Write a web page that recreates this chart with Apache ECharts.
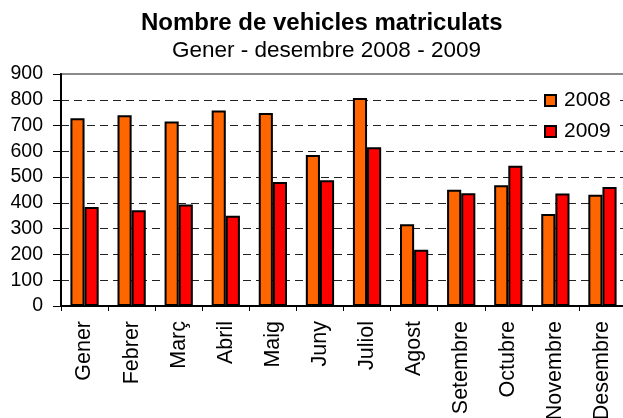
<!DOCTYPE html>
<html>
<head>
<meta charset="utf-8">
<script src="https://cdn.jsdelivr.net/npm/echarts@6/dist/echarts.min.js"></script>
<style>
html,body{margin:0;padding:0;background:#fff;}
#chart{width:623px;height:418px;}
</style>
</head>
<body>
<div id="chart"></div>
<script>
const months = ['Gener','Febrer','Març','Abril','Maig','Juny','Juliol','Agost','Setembre','Octubre','Novembre','Desembre'];
const values2008 = [728, 740, 716, 758, 749, 586, 807, 317, 451, 468, 357, 432];
const values2009 = [384, 371, 394, 350, 481, 488, 616, 218, 437, 544, 436, 462];
const seriesNames = ['2008', '2009'];
const titleText = 'Nombre de vehicles matriculats';
const subtitleText = 'Gener - desembre 2008 - 2009';

const FONT = '"Liberation Sans", Arial, sans-serif';
const gridColors = ['#222','#222','#222','#222','#222','#222','#222','#222','#222','rgba(0,0,0,0)'];
const chart = echarts.init(document.getElementById('chart'), null, {renderer: 'canvas'});
chart.setOption({
  animation: false,
  backgroundColor: '#fff',
  textStyle: {fontFamily: FONT},
  title: [
    {
      text: titleText,
      left: 141,
      top: 11,
      padding: 0,
      textStyle: {fontFamily: FONT, fontSize: 24, fontWeight: 'bold', color: '#000'}
    },
    {
      text: subtitleText,
      left: 172,
      top: 39,
      padding: 0,
      textStyle: {fontFamily: FONT, fontSize: 22.5, fontWeight: 'normal', color: '#000'}
    }
  ],
  legend: {
    orient: 'vertical',
    left: 538,
    top: 86,
    padding: [4, 6, 4, 6],
    itemGap: 10,
    itemWidth: 11,
    itemHeight: 11,
    icon: 'rect',
    backgroundColor: '#fff',
    textStyle: {fontFamily: FONT, fontSize: 21, color: '#000', lineHeight: 21, padding: [0, 0, 0, 3]},
    itemStyle: {borderColor: '#000', borderWidth: 2},
    data: seriesNames
  },
  grid: {
    left: 61, right: -3, top: 74, bottom: 112,
    outerBoundsMode: 'none',
    containLabel: false,
    show: true, borderColor: '#8a8a8a', borderWidth: 2, backgroundColor: 'transparent'
  },
  xAxis: {
    type: 'category',
    data: months,
    axisLine: {lineStyle: {color: '#000', width: 2}},
    axisTick: {show: true, length: 5, interval: 0, lineStyle: {color: '#000', width: 1}},
    axisLabel: {rotate: 90, interval: 0, margin: 15, fontSize: 21.5, color: '#000', fontFamily: FONT}
  },
  yAxis: {
    type: 'value',
    min: 0, max: 900, interval: 100,
    axisLine: {show: true, lineStyle: {color: '#000', width: 2}},
    axisTick: {show: true, length: 8, lineStyle: {color: '#000', width: 1}},
    axisLabel: {margin: 18, fontSize: 19.5, color: '#000', fontFamily: FONT},
    splitLine: {show: true, lineStyle: {color: gridColors, width: 1.2, type: [8, 5]}}
  },
  series: [
    {
      name: seriesNames[0], type: 'bar', data: values2008,
      barGap: '0%', barCategoryGap: '40%',
      itemStyle: {color: '#FF6600', borderColor: '#000', borderWidth: 2}
    },
    {
      name: seriesNames[1], type: 'bar', data: values2009,
      itemStyle: {color: '#FF0000', borderColor: '#000', borderWidth: 2}
    }
  ]
});
</script>
</body>
</html>
